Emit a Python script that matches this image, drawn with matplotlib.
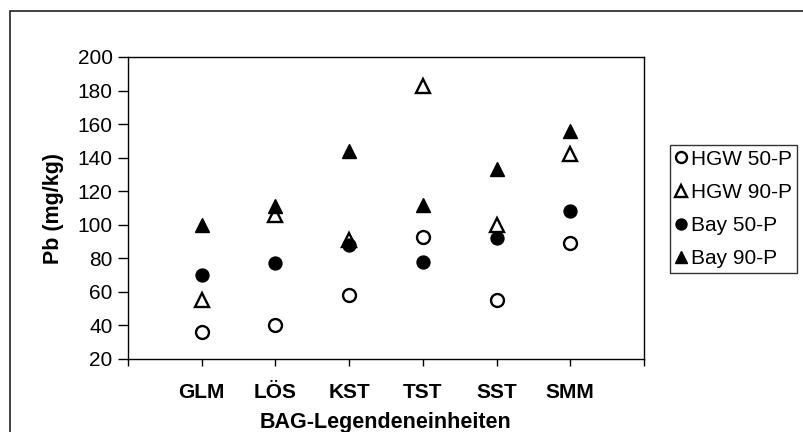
import numpy as np
import matplotlib.pyplot as plt
from matplotlib.patches import Rectangle

# Data
categories = ['GLM', 'LÖS', 'KST', 'TST', 'SST', 'SMM']
hgw_50 = [36, 40, 58, 93, 55, 89]
hgw_90 = [55, 106, 91, 183, 100, 142]
bay_50 = [70, 77, 88, 78, 92, 108]
bay_90 = [100, 111, 144, 112, 133, 156]
series_names = ['HGW 50-P', 'HGW 90-P', 'Bay 50-P', 'Bay 90-P']
y_ticks = list(range(20, 201, 20))

plt.rcParams['font.family'] = ['Liberation Sans', 'DejaVu Sans']

fig = plt.figure(figsize=(8.04, 4.32), dpi=100)
ax = fig.add_axes([128 / 804, 73 / 432, 516 / 804, 302 / 432])

# Outer chart-area frame (runs off the right and bottom edge)
fig.patches.append(Rectangle((10 / 804, -0.05), 1.0, 1.05 - 10.5 / 432,
                             transform=fig.transFigure, fill=False,
                             edgecolor='#222222', linewidth=1.2))

x = np.arange(1, len(categories) + 1)
ms = 10
ax.plot(x, hgw_50, 'o', ms=ms * 0.93, mfc='white', mec='black', mew=1.7,
        label=series_names[0])
ax.plot(x, hgw_90, '^', ms=ms, mfc='white', mec='black', mew=1.7,
        label=series_names[1])
ax.plot(x, bay_50, 'o', ms=ms * 0.93, mfc='black', mec='black',
        label=series_names[2])
ax.plot(x, bay_90, '^', ms=ms, mfc='black', mec='black',
        label=series_names[3])

ax.set_xlim(0, 7)
ax.set_ylim(20, 200)
ax.set_yticks(y_ticks)
ax.set_xticks(range(0, len(categories) + 2))
ax.set_xticklabels([''] + categories + [''], fontsize=15, fontweight='bold')
ax.tick_params(axis='y', direction='out', length=7, width=1, labelsize=15, pad=4)
ax.tick_params(axis='x', direction='out', length=5, width=1, pad=12)

for s in ax.spines.values():
    s.set_linewidth(1)
    s.set_color('black')

ax.set_ylabel('Pb (mg/kg)', fontsize=15.5, fontweight='bold')
ax.yaxis.set_label_coords(-0.125, 0.5)
ax.set_xlabel('BAG-Legendeneinheiten', fontsize=15.5, fontweight='bold')
ax.xaxis.set_label_coords(0.5, -0.175)

leg = ax.legend(loc='center left', bbox_to_anchor=(670 / 804, 223 / 432),
                bbox_transform=fig.transFigure, fontsize=15, frameon=True,
                fancybox=False, handlelength=0.6, handletextpad=0.15,
                borderpad=0.25, labelspacing=0.68, borderaxespad=0,
                markerscale=0.85)
leg.get_frame().set_edgecolor('black')
leg.get_frame().set_linewidth(1)

fig.savefig('out.png', dpi=100)
